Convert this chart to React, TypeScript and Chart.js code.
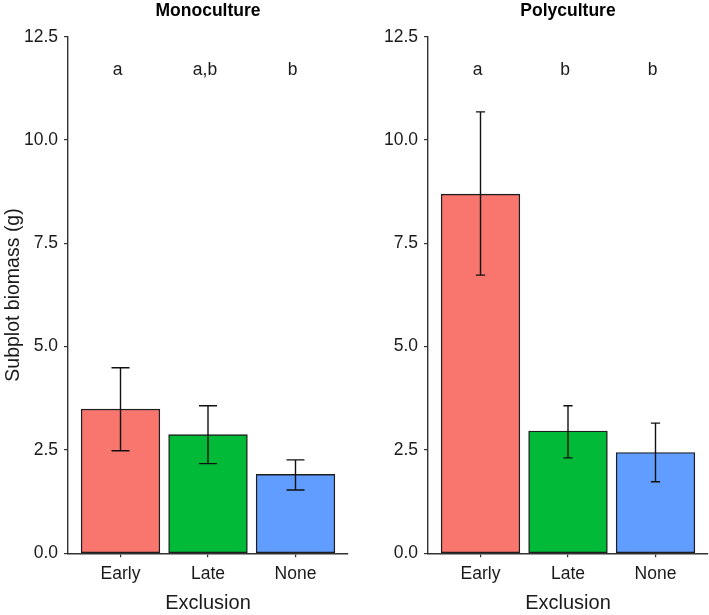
import React, { useEffect, useRef } from "react";
import { Chart, registerables } from "chart.js";

Chart.register(...registerables);

const categories = ["Early", "Late", "None"];
const barColors = ["#F8766D", "#00BA38", "#619CFF"];

const monoValues = [3.49, 2.87, 1.91];
const monoLow = [2.48, 2.17, 1.53];
const monoHigh = [4.49, 3.57, 2.26];
const monoLetters = ["a", "a,b", "b"];

const polyValues = [8.69, 2.96, 2.44];
const polyLow = [6.73, 2.31, 1.73];
const polyHigh = [10.68, 3.57, 3.15];
const polyLetters = ["a", "b", "b"];

const yTicks = [0, 2.5, 5, 7.5, 10, 12.5];
const letterLevel = 11.7;

const FONT = "'Liberation Sans', Arial, Helvetica, sans-serif";
const AXIS_COLOR = "#333333";
const TEXT_COLOR = "#1a1a1a";

type PanelProps = {
  title: string;
  values: number[];
  low: number[];
  high: number[];
  letters: string[];
  width: number;
  rightPad: number;
  showYTitle: boolean;
  capHalf: number;
};

function Panel({ title, values, low, high, letters, width, rightPad, showYTitle, capHalf }: PanelProps) {
  const ref = useRef<HTMLCanvasElement | null>(null);
  useEffect(() => {
    if (!ref.current) return;
    const annot = {
      id: "annot",
      afterDatasetsDraw(chart: any) {
        const ctx = chart.ctx;
        const xs = chart.scales.x;
        const ys = chart.scales.y;
        const area = chart.chartArea;
        ctx.save();
        ctx.strokeStyle = "#111111";
        ctx.lineWidth = 1.4;
        for (let i = 0; i < values.length; i++) {
          const x = xs.getPixelForValue(i + 1);
          const yl = ys.getPixelForValue(low[i]);
          const yh = ys.getPixelForValue(high[i]);
          ctx.beginPath();
          ctx.moveTo(x, yl);
          ctx.lineTo(x, yh);
          ctx.moveTo(x - capHalf, yl);
          ctx.lineTo(x + capHalf, yl);
          ctx.moveTo(x - capHalf, yh);
          ctx.lineTo(x + capHalf, yh);
          ctx.stroke();
        }
        ctx.fillStyle = TEXT_COLOR;
        ctx.font = `17.5px ${FONT}`;
        ctx.textAlign = "center";
        ctx.textBaseline = "middle";
        for (let i = 0; i < letters.length; i++) {
          const x = xs.getPixelForValue(i + 1) - 3;
          const y = ys.getPixelForValue(letterLevel);
          ctx.fillText(letters[i], x, y);
        }
        // panel title centred over the plotting area
        ctx.fillStyle = "#000";
        ctx.font = `bold 17.5px ${FONT}`;
        ctx.fillText(title, (area.left + area.right) / 2, 11);
        ctx.restore();
      },
    };
    const chart = new Chart(ref.current, {
      type: "bar",
      data: {
        datasets: [
          {
            data: values.map((v, i) => ({ x: i + 1, y: v })),
            backgroundColor: barColors,
            borderColor: "#1e1e1e",
            borderWidth: 1.4,
            borderSkipped: false,
            barThickness: "flex",
            barPercentage: 0.9,
            categoryPercentage: 1,
          },
        ],
      },
      options: {
        responsive: false,
        animation: false,
        devicePixelRatio: 1,
        layout: { padding: { left: 0, right: rightPad, top: 36.7, bottom: 0 } },
        plugins: {
          legend: { display: false },
          tooltip: { enabled: false },
          title: { display: false },
        },
        scales: {
          x: {
            type: "linear",
            offset: false,
            min: 0.4,
            max: 3.6,
            afterBuildTicks: (scale: any) => {
              scale.ticks = categories.map((_, i) => ({ value: i + 1 }));
            },
            afterFit: (scale: any) => {
              scale.height = 61.7;
            },
            ticks: {
              autoSkip: false,
              maxRotation: 0,
              color: TEXT_COLOR,
              font: { family: FONT, size: 17.5 },
              padding: 6,
              callback: (v: any) => categories[Math.round(v) - 1] ?? "",
            },
            grid: {
              display: true,
              offset: false,
              drawOnChartArea: false,
              drawTicks: true,
              tickLength: 4,
              color: AXIS_COLOR,
              lineWidth: 1.2,
            },
            border: { display: true, color: AXIS_COLOR, width: 1.4 },
            title: {
              display: true,
              text: "Exclusion",
              color: TEXT_COLOR,
              font: { family: FONT, size: 20 },
              padding: { top: 0, bottom: 0 },
            },
          },
          y: {
            type: "linear",
            min: 0,
            max: 12.5,
            afterBuildTicks: (scale: any) => {
              scale.ticks = yTicks.map((v) => ({ value: v }));
            },
            afterFit: (scale: any) => {
              scale.width = 68;
            },
            ticks: {
              color: TEXT_COLOR,
              font: { family: FONT, size: 17.5 },
              padding: 6,
              callback: (v: any) => Number(v).toFixed(1),
            },
            grid: {
              display: true,
              drawOnChartArea: false,
              drawTicks: true,
              tickLength: 4,
              color: AXIS_COLOR,
              lineWidth: 1.2,
            },
            border: { display: true, color: AXIS_COLOR, width: 1.4 },
            title: {
              display: showYTitle,
              text: "Subplot biomass (g)",
              color: TEXT_COLOR,
              font: { family: FONT, size: 19.5 },
              padding: { top: 2, bottom: 0 },
            },
          },
        },
      },
      plugins: [annot],
    } as any);
    return () => chart.destroy();
  }, []);
  return <canvas ref={ref} width={width} height={615} style={{ display: "block", width, height: 615 }} />;
}

export default function App() {
  return (
    <div style={{ position: "absolute", left: 0, top: 0, width: 709, height: 615, background: "#fff", display: "flex" }}>
      <Panel
        title="Monoculture"
        values={monoValues}
        low={monoLow}
        high={monoHigh}
        letters={monoLetters}
        width={360}
        rightPad={12}
        showYTitle={true}
        capHalf={9}
      />
      <Panel
        title="Polyculture"
        values={polyValues}
        low={polyLow}
        high={polyHigh}
        letters={polyLetters}
        width={349}
        rightPad={1}
        showYTitle={false}
        capHalf={4.6}
      />
    </div>
  );
}
